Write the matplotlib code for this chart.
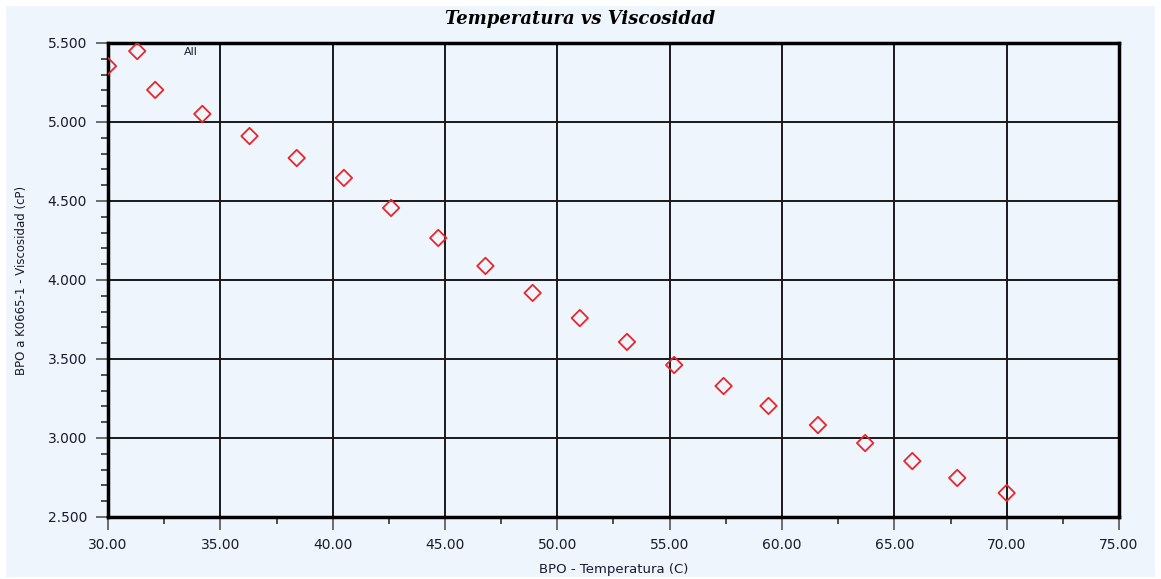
import matplotlib
matplotlib.use("Agg")
import matplotlib.pyplot as plt
from matplotlib.ticker import MultipleLocator, FormatStrFormatter
from matplotlib.patches import Rectangle

temperatura = [30.0, 31.3, 32.1, 34.2, 36.3, 38.4, 40.5, 42.6, 44.7, 46.8, 48.9,
               51.0, 53.1, 55.2, 57.4, 59.4, 61.6, 63.7, 65.8, 67.8, 70.0]
viscosidad = [5.354, 5.449, 5.203, 5.051, 4.911, 4.772, 4.646, 4.456, 4.266, 4.089,
              3.918, 3.759, 3.608, 3.462, 3.329, 3.203, 3.082, 2.968, 2.854, 2.747, 2.652]
title = "Temperatura vs Viscosidad"
xlabel = "BPO - Temperatura (C)"
ylabel = "BPO a K0665-1 - Viscosidad (cP)"
series_name = "All"

bg = "#EEF5FC"
fig = plt.figure(figsize=(11.61, 5.79), dpi=100)
fig.patch.set_facecolor("white")
fig.patches.append(Rectangle((0.005, 0.004), 0.99, 0.985, transform=fig.transFigure,
                             facecolor=bg, edgecolor="none", zorder=-10))
ax = fig.add_axes([108/1161, 1-517/579, (1119-108)/1161, (517-43)/579])
ax.set_facecolor(bg)

ax.scatter(temperatura, viscosidad, marker="D", s=70, facecolors="none",
           edgecolors="#E8262C", linewidths=1.3, zorder=3, clip_on=True)

ax.set_xlim(30, 75)
ax.set_ylim(2.5, 5.5)
ax.xaxis.set_major_locator(MultipleLocator(5))
ax.xaxis.set_minor_locator(MultipleLocator(2.5))
ax.yaxis.set_major_locator(MultipleLocator(0.5))
ax.yaxis.set_minor_locator(MultipleLocator(0.1))
ax.xaxis.set_major_formatter(FormatStrFormatter("%.2f"))
ax.yaxis.set_major_formatter(FormatStrFormatter("%.3f"))
ax.grid(True, which="major", color="#1a1a1a", linewidth=1.4)
ax.set_axisbelow(True)
for s in ax.spines.values():
    s.set_linewidth(2.5)
    s.set_color("black")
ax.tick_params(which="major", direction="out", length=9, width=1.2, color="#555555",
               labelsize=10, labelcolor="#1a1a2e", pad=6)
ax.tick_params(which="minor", direction="out", length=5, width=1.2, color="#333333")

ax.set_xlabel(xlabel, fontsize=9.5, color="#1a1a2e", labelpad=8)
ax.set_ylabel(ylabel, fontsize=8.5, color="#1a1a2e", labelpad=14)
fig.text(0.5, 1-19/579, title, ha="center", va="center", fontsize=13,
         fontfamily="DejaVu Serif", fontweight="bold", fontstyle="italic")
ax.text(33.7, 5.44, series_name, fontsize=8, color="#1a1a2e", ha="center", va="center")

fig.savefig("out.png", dpi=100, facecolor=fig.get_facecolor())
